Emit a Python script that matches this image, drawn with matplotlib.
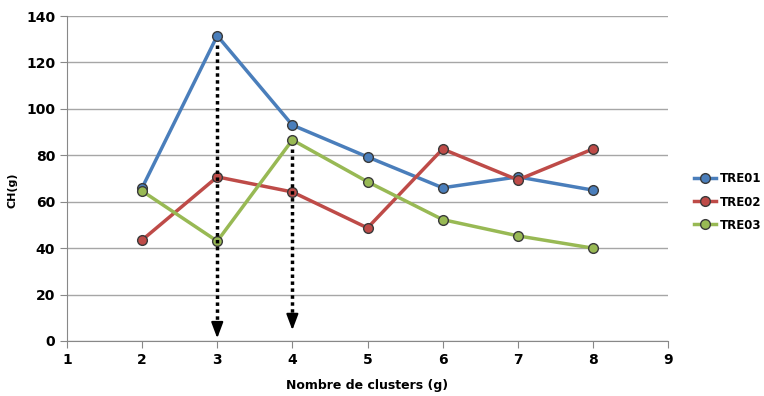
import matplotlib
matplotlib.use("Agg")
import matplotlib.pyplot as plt

clusters = [2, 3, 4, 5, 6, 7, 8]
tre01 = [66, 131.5, 93, 79.3, 66, 70.7, 65]
tre02 = [43.5, 70.7, 64.2, 48.7, 82.7, 69.4, 82.7]
tre03 = [64.6, 43, 86.6, 68.6, 52.3, 45.3, 40]
series = [("TRE01", tre01, "#4A7EBB"), ("TRE02", tre02, "#BE4B48"), ("TRE03", tre03, "#98B954")]
# arrows marking the chosen number of clusters (x, start value, tip)
arrows = [(3, tre01[1], 0), (4, tre03[2], 3.5)]

plt.rcParams["font.family"] = ["DejaVu Sans"]

fig = plt.figure(figsize=(7.64, 3.96), dpi=100)
ax = fig.add_axes([67 / 764, 55 / 396, 601 / 764, 325 / 396])

for name, vals, col in series:
    ax.plot(clusters, vals, color=col, lw=2.5, marker="o", ms=7,
            markerfacecolor=col, markeredgecolor="#3a3a3a", markeredgewidth=1, label=name, zorder=3)

for x, top, tip in arrows:
    ax.plot([x, x], [top - 4, tip + 5], color="black", ls=(0, (1, 1)), lw=2.5, zorder=4)
    ax.annotate("", xy=(x, tip), xytext=(x, tip + 8),
                arrowprops=dict(arrowstyle="-|>,head_length=0.8,head_width=0.3", color="black",
                                lw=1.5, mutation_scale=12), zorder=5)

ax.set_xlim(1, 9)
ax.set_ylim(0, 140)
ax.set_xticks(range(1, 10))
ax.set_yticks(range(0, 141, 20))
ax.yaxis.grid(True, color="#A6A6A6", lw=1)
ax.set_axisbelow(True)
for s in ["top", "right"]:
    ax.spines[s].set_visible(False)
for s in ["left", "bottom"]:
    ax.spines[s].set_color("#888888")
ax.tick_params(direction="out", color="#888888", length=5, labelsize=10)
for lab in ax.get_xticklabels() + ax.get_yticklabels():
    lab.set_fontweight("bold")
ax.set_xlabel("Nombre de clusters (g)", fontsize=9, fontweight="bold", labelpad=9)
fig.text(12 / 764, 1 - 190 / 396, "CH(g)", rotation=90, ha="center", va="center",
         fontsize=8, fontweight="bold")

fig.legend(loc="center left", bbox_to_anchor=(0.908, 1 - 202 / 396), frameon=False,
           prop=dict(weight="bold", size=8.5), handlelength=1.9,
           labelspacing=0.85, handletextpad=0.3, borderaxespad=0, borderpad=0)

fig.savefig("out.png", dpi=100, facecolor="white")
plt.close(fig)
